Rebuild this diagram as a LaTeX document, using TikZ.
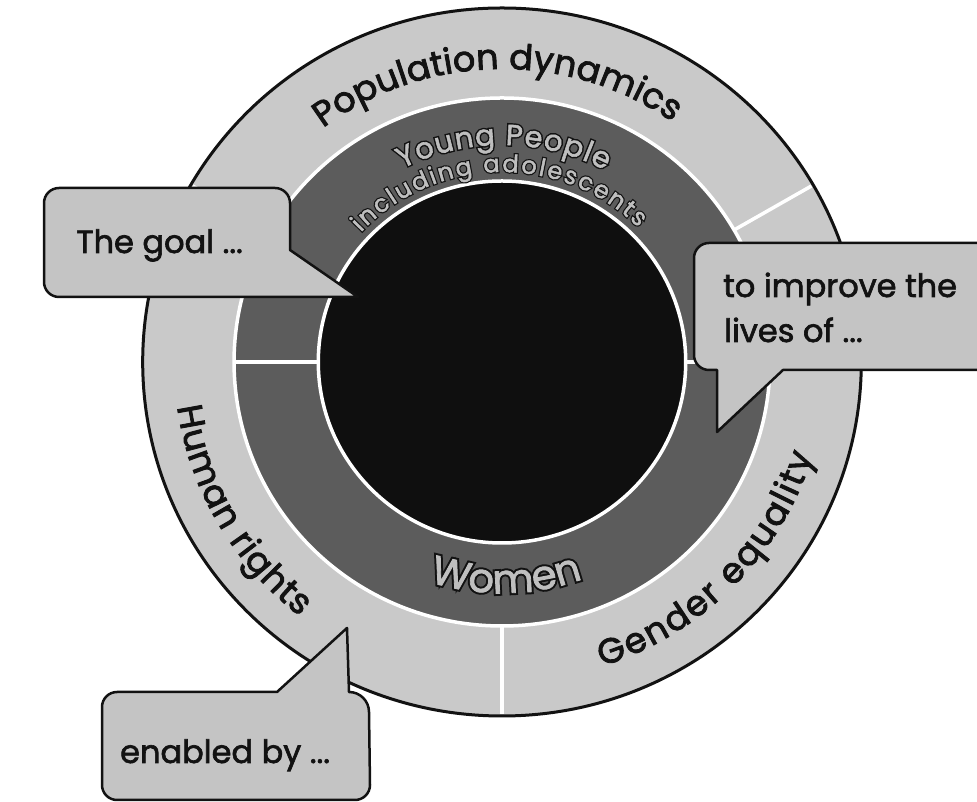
\documentclass[tikz,border=0pt]{standalone}
\usepackage{fontspec}
\setmainfont{Poppins}
\newfontfamily\callfont{Poppins}[FakeBold=2]
\newfontfamily\ringfont{Poppins}[FakeBold=2.5]
\newfontfamily\darkfont{Poppins}[FakeBold=2]
\newfontfamily\darkrim{Poppins}[FakeBold=12]
\usetikzlibrary{decorations.text}
\definecolor{ringlight}{gray}{0.79}
\definecolor{ringdark}{gray}{0.36}
\definecolor{core}{gray}{0.06}
\definecolor{calloutfill}{gray}{0.77}
\definecolor{ringtext}{gray}{0.75}
\definecolor{ink}{gray}{0.07}
\tikzset{
  sepline/.style={white, line width=3.5pt},
  callout/.style={fill=calloutfill, draw=ink, line width=2.5pt, line join=round},
  calltext/.style={inner sep=0pt, text=ink, font=\callfont\fontsize{32}{38}\selectfont},
}
\begin{document}
\begin{tikzpicture}[x=1pt,y=1pt]
\useasboundingbox (0,0) rectangle (977,802);
\clip (0,0) rectangle (977,802);
\coordinate (C) at (502,440);
\begin{scope}[shift={(C)}, xscale=1.015]
  % rings
  \fill[ringlight] (0,0) circle[radius=354];
  \fill[ringdark] (0,0) circle[radius=264];
  \draw[white, line width=3.5pt] (0,0) circle[radius=264];
  \fill[core] (0,0) circle[radius=181];
  \draw[white, line width=3.5pt] (0,0) circle[radius=181];
  % separators
  \foreach \a in {30,150,270} \draw[sepline] (\a:265) -- (\a:352);
  \foreach \a in {0,180} \draw[sepline] (\a:182) -- (\a:263);
  \draw[ink, line width=3pt] (0,0) circle[radius=354];
  % outer ring texts
  \path[decorate, decoration={text along path, text align={fit to path},
      text={|\ringfont\fontsize{35}{40}\selectfont\color{ink}|Population dynamics}}]
      (127:293) arc[start angle=127, end angle=55, radius=293];
  \path[decorate, decoration={text along path, text align={fit to path},
      text={|\ringfont\fontsize{35}{40}\selectfont\color{ink}|Gender equality}}]
      (-72:320) arc[start angle=-72, end angle=-17, radius=320];
  \path[decorate, decoration={text along path, text align={fit to path},
      text={|\ringfont\fontsize{35}{40}\selectfont\color{ink}|Human rights}}]
      (188:323) arc[start angle=188, end angle=232, radius=323];
  % dark ring texts: heavy dark rim underneath, light letters on top
  \foreach \fnt/\col in {\darkrim/ink, \darkfont/ringtext}{
    \path[decorate, decoration={text along path, text align={fit to path},
        text={|\fnt\fontsize{29}{34}\selectfont\color{\col}|Young People}}]
        (117:217) arc[start angle=117, end angle=62, radius=217];
    \path[decorate, decoration={text along path, text align={fit to path},
        text={|\fnt\fontsize{24}{29}\selectfont\color{\col}|including adolescents}}]
        (137:190) arc[start angle=137, end angle=45, radius=190];
    \path[decorate, decoration={text along path, text align={fit to path},
        text={|\fnt\fontsize{40}{46}\selectfont\color{\col}|Women}}]
        (252:231) arc[start angle=252, end angle=289, radius=231];
  }
\end{scope}
% callout 1: The goal ...
\draw[callout] (44,520) -- (44,599) arc[start angle=180, end angle=90, radius=15]
  -- (275,614) arc[start angle=90, end angle=0, radius=15]
  -- (290,552) -- (358,505) -- (59,505) arc[start angle=270, end angle=180, radius=15] -- cycle;
\node[calltext, anchor=base east] (goal) at (243,549) {The goal ...};
% callout 2: to improve the lives of ...
\draw[callout] (995,559) -- (709,559) arc[start angle=90, end angle=180, radius=15]
  -- (694,447) arc[start angle=180, end angle=270, radius=15]
  -- (717,432) -- (717,370) -- (783,432) -- (995,432) -- cycle;
\node[calltext, anchor=base west] (improveA) at (723,505) {to improve the};
\node[calltext, anchor=base west] (improveB) at (724,460) {lives of ...};
% callout 3: enabled by ...
\draw[callout] (102,17) -- (102,95) arc[start angle=180, end angle=90, radius=15]
  -- (277,110) -- (347,174) -- (349,110) arc[start angle=90, end angle=0, radius=20]
  -- (370,17) arc[start angle=0, end angle=-90, radius=15]
  -- (117,2) arc[start angle=270, end angle=180, radius=15] -- cycle;
\node[calltext, anchor=base west] (enabled) at (120,39) {enabled by ...};
\end{tikzpicture}
\end{document}
